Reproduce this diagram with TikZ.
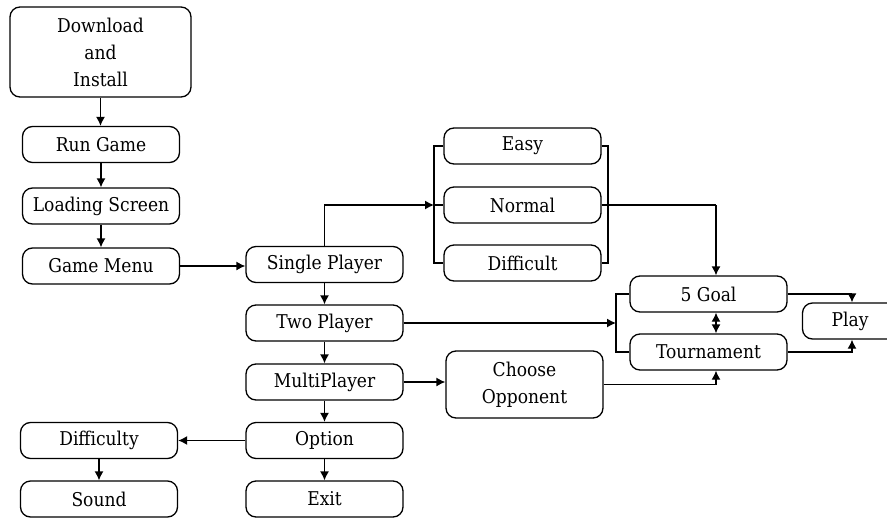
\documentclass[tikz,border=0pt]{standalone}
\usepackage{fontspec}
\setmainfont{DejaVu Serif Condensed}
\usetikzlibrary{arrows.meta}
\begin{document}
\begin{tikzpicture}[x=1pt,y=-1pt,
  box/.style={draw, rounded corners=10pt, line width=1.3pt, minimum width=157pt,
    minimum height=36pt, inner sep=0pt, font=\fontsize{19}{27}\selectfont, align=center},
  conn/.style={line width=1.3pt},
  tip/.tip={Latex[length=9pt,width=9pt]},
  arr/.style={conn, -tip},
]
\useasboundingbox (0,0) rectangle (887,520);
\fill[white] (0,0) rectangle (887,520);
\clip (0,0) rectangle (887,520);

\node[box, minimum width=181pt, minimum height=90pt] (dl) at (100.5,52) {Download\\and\\Install};
\node[box] (run) at (101,144.5) {Run Game};
\node[box] (load) at (101,206) {Loading Screen};
\node[box] (menu) at (101,266) {Game Menu};
\node[box] (sp) at (324.5,264.5) {Single Player};
\node[box] (tp) at (324.5,323) {Two Player};
\node[box] (mp) at (324.5,382) {MultiPlayer};
\node[box] (opt) at (324.5,440.5) {Option};
\node[box] (exit) at (324.5,499) {Exit};
\node[box] (diff) at (99,440.5) {Difficulty};
\node[box] (sound) at (99,499) {Sound};
\node[box] (easy) at (522.5,146) {Easy};
\node[box] (normal) at (522.5,205) {Normal};
\node[box] (hard) at (522.5,263) {Difficult};
\node[box, minimum height=67pt] (co) at (524.5,384.5) {Choose\\Opponent};
\node[box] (goal) at (708.5,294) {5 Goal};
\node[box] (tour) at (708.5,352) {Tournament};
\node[box, minimum width=95pt] (play) at (850,321) {Play};

\coordinate (bl) at (434,205);
\coordinate (br) at (608,205);
\coordinate (nk) at (716,205);
\coordinate (gl) at (616,324);
\coordinate (pk) at (852,321);

\draw[arr] (dl.south) -- (dl.south |- run.north);
\draw[arr] (run) -- (load);
\draw[arr] (load) -- (menu);
\draw[arr] (menu.east) -- (menu.east -| sp.west);
\draw[arr] (sp) -- (tp);
\draw[arr] (tp) -- (mp);
\draw[arr] (mp) -- (opt);
\draw[arr] (opt) -- (exit);
\draw[arr] (opt) -- (diff);
\draw[arr] (diff) -- (sound);
\draw[arr] (mp.east) -- (mp.east -| co.west);

\draw[conn] (easy.west) -- (easy.west -| bl) -- (hard.west -| bl) -- (hard.west);
\draw[conn] (bl) -- (normal.west);
\draw[arr] (sp.north) |- (bl);
\draw[conn] (easy.east) -- (easy.east -| br) -- (hard.east -| br) -- (hard.east);
\draw[conn] (normal.east) -- (nk);
\draw[arr] (nk) -- (nk |- goal.north);

\draw[conn] (goal.west) -- (goal.west -| gl) -- (tour.west -| gl) -- (tour.west);
\draw[arr] (tp.east) -- (tp.east -| gl);
\draw[conn, tip-tip] (nk |- goal.south) -- (nk |- tour.north);
\draw[arr] (co.east) -| (tour.south -| nk);
\draw[arr] (goal.east) -| (play.north -| pk);
\draw[arr] (tour.east) -| (play.south -| pk);
\end{tikzpicture}
\end{document}
